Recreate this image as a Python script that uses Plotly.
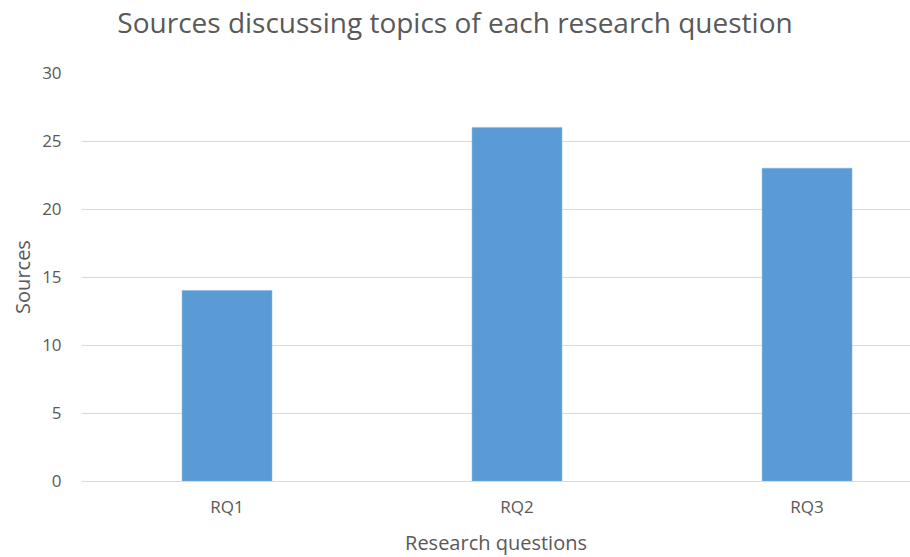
import plotly.graph_objects as go

categories = ["RQ1", "RQ2", "RQ3"]
sources = [14, 26, 23]
y_ticks = [0, 5, 10, 15, 20, 25, 30]

fig = go.Figure(go.Bar(
    x=list(range(len(categories))), y=sources,
    width=0.31,
    marker=dict(color="#5B9BD5", line=dict(color="#7FB2E0", width=0.5)),
))

font = "Open Sans, Noto Sans, sans-serif"
fig.update_layout(
    width=910, height=557,
    margin=dict(l=82, r=0, t=73, b=76),
    paper_bgcolor="white", plot_bgcolor="white",
    showlegend=False,
    title=dict(text="Sources discussing topics of each research question",
               x=0.5, xanchor="center", y=0.958, yanchor="middle",
               font=dict(family=font, size=28, color="#595959")),
    font=dict(family=font, color="#595959"),
    xaxis=dict(
        range=[-0.5, 2.355],
        tickvals=list(range(len(categories))), ticktext=categories,
        tickfont=dict(size=17, color="#595959"),
        showgrid=False, zeroline=False, showline=False,
        ticks="outside", ticklen=11, tickcolor="rgba(0,0,0,0)",
        title=dict(text="Research questions", font=dict(size=20, color="#595959"), standoff=18),
    ),
    yaxis=dict(
        range=[0, 30], tickvals=y_ticks,
        tickfont=dict(size=17, color="#595959"),
        showgrid=True, gridcolor="#D9D9D9", gridwidth=1,
        zeroline=True, zerolinecolor="#D9D9D9", zerolinewidth=1,
        showline=False, ticks="outside", ticklen=16, tickcolor="rgba(0,0,0,0)",
        title=dict(text="Sources", font=dict(size=20, color="#595959"), standoff=6),
    ),
)

fig.write_html("out.html")
